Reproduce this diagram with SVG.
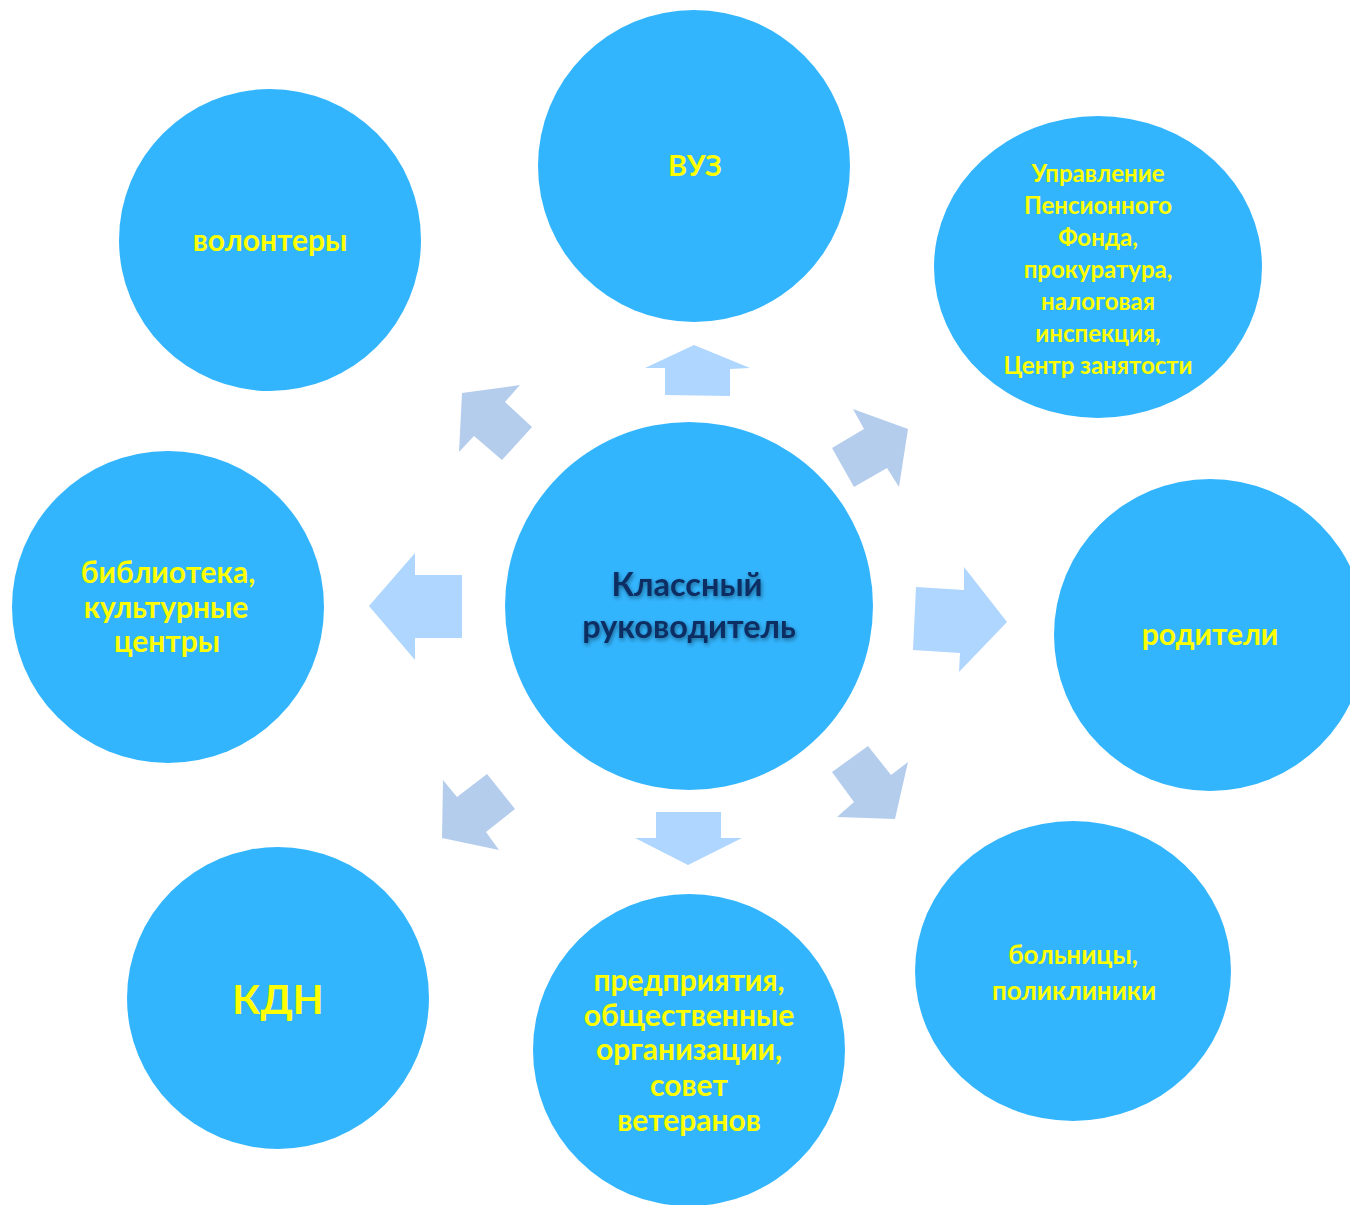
<svg xmlns="http://www.w3.org/2000/svg" width="1350" height="1205" viewBox="0 0 1350 1205">
<defs>
<style>
.c{fill:#33B5FE}
.t{fill:#FFFF00;font-family:Lato,"Open Sans","Liberation Sans",sans-serif;font-weight:bold;text-anchor:middle}
.m{fill:#0E2F63;font-family:Lato,"Open Sans","Liberation Sans",sans-serif;font-weight:bold;text-anchor:middle;font-size:32.5px}
.ad{fill:#B5CDED}
.ao{fill:#AED6FE}
</style>
<filter id="sh" x="-10%" y="-30%" width="120%" height="160%">
<feDropShadow dx="1" dy="2" stdDeviation="2" flood-color="#000" flood-opacity="0.45"/>
</filter>
</defs>
<rect width="1350" height="1205" fill="#fff"/>
<g id="connectors">
<polygon class="ao" points="694,345 750,368 730,369 730,396 665,395 665,368 645,368"/>
<polygon class="ad" points="462,393 520,385 505,402 532,427 502,460 474,436 459,452"/>
<polygon class="ad" points="908,429 899,487 887,468 854,487 832,448 864,429 853,409"/>
<polygon class="ao" points="369,606 415,553 415,575 462,575 462,638 415,638 415,660"/>
<polygon class="ao" points="1007,622 959,672 960,653 913,650 916,587 964,590 964,567"/>
<polygon class="ad" points="442,838 443,780 457,797 487,774 515,809 486,832 499,850"/>
<polygon class="ao" points="688,865 635,838 656,838 656,812 721,812 721,838 742,838"/>
<polygon class="ad" points="895,819 837,817 854,802 832,772 868,746 891,775 908,762"/>
</g>
<g id="center">
<circle class="c" cx="689" cy="606" r="184"/>
<g filter="url(#sh)">
<text class="m" x="687" y="596">Классный</text>
<text class="m" x="689" y="638">руководитель</text>
</g>
</g>
<g id="vuz">
<circle class="c" cx="694" cy="166" r="156"/>
<text class="t" x="695" y="176" font-size="29">ВУЗ</text>
</g>
<g id="pension">
<ellipse class="c" cx="1098" cy="267" rx="164" ry="151"/>
<g font-size="24">
<text class="t" x="1098" y="182">Управление</text>
<text class="t" x="1098" y="214">Пенсионного</text>
<text class="t" x="1098" y="246">Фонда,</text>
<text class="t" x="1098" y="278">прокуратура,</text>
<text class="t" x="1098" y="310">налоговая</text>
<text class="t" x="1098" y="342">инспекция,</text>
<text class="t" x="1098" y="374">Центр занятости</text>
</g>
</g>
<g id="parents">
<circle class="c" cx="1210" cy="635" r="156"/>
<text class="t" x="1210" y="645" font-size="30">родители</text>
</g>
<g id="hospitals">
<ellipse class="c" cx="1073" cy="971" rx="158" ry="150"/>
<g font-size="26">
<text class="t" x="1073" y="964">больницы,</text>
<text class="t" x="1074" y="1000">поликлиники</text>
</g>
</g>
<g id="enterprises">
<circle class="c" cx="689" cy="1050" r="156"/>
<g font-size="30">
<text class="t" x="689" y="991">предприятия,</text>
<text class="t" x="689" y="1026">общественные</text>
<text class="t" x="689" y="1060">организации,</text>
<text class="t" x="689" y="1096">совет</text>
<text class="t" x="689" y="1131">ветеранов</text>
</g>
</g>
<g id="kdn">
<circle class="c" cx="278" cy="998" r="151"/>
<text class="t" x="278" y="1014" font-size="40">КДН</text>
</g>
<g id="library">
<circle class="c" cx="168" cy="607" r="156"/>
<g font-size="30">
<text class="t" x="168" y="583">библиотека,</text>
<text class="t" x="166" y="618">культурные</text>
<text class="t" x="167" y="652">центры</text>
</g>
</g>
<g id="volunteers">
<circle class="c" cx="270" cy="240" r="151"/>
<text class="t" x="270" y="251" font-size="30">волонтеры</text>
</g>
</svg>
